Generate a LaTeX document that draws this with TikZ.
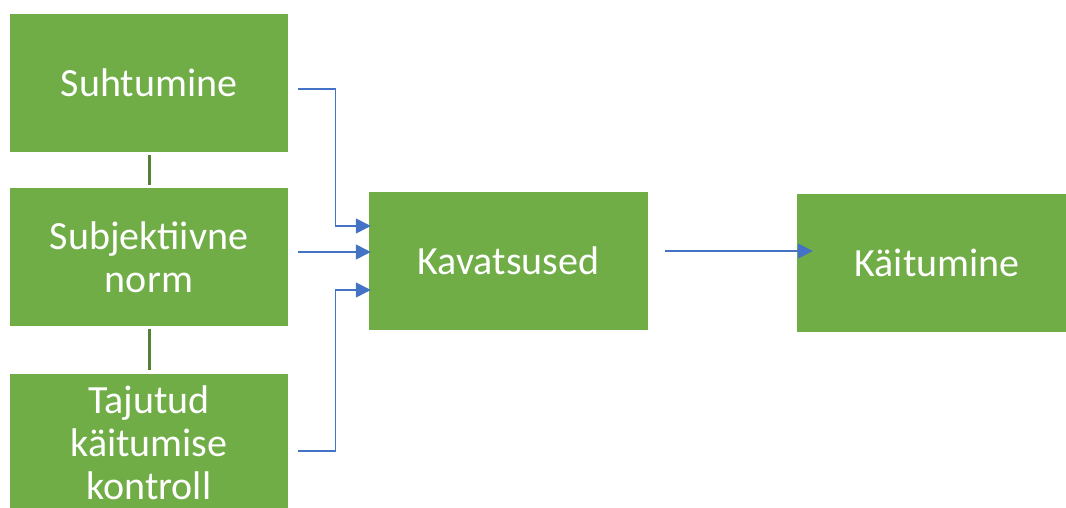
\documentclass[tikz,border=0pt]{standalone}
\usepackage{fontspec}
\setmainfont{Carlito}
\usetikzlibrary{arrows.meta}
\definecolor{boxgreen}{HTML}{70AD47}
\definecolor{tiegreen}{HTML}{548235}
\definecolor{myblue}{HTML}{4472C4}
\tikzset{
  box/.style={fill=boxgreen, text=white, minimum width=278pt, minimum height=138pt,
    inner sep=0pt, align=center, font=\fontsize{40}{43}\selectfont},
  link/.style={myblue, line width=1.3pt, -{Triangle[length=15pt,width=15pt]}},
  tie/.style={tiegreen, line width=3pt}
}
\begin{document}
\begin{tikzpicture}[x=1pt,y=-1pt]
			\useasboundingbox (0,0) rectangle (1066,508);
			\node [box] (suht) at (149,83) {Suhtumine};
			\node [box] (subj) at (149,257) {Subjektiivne\\norm};
			\node [box] (taju) at (149,443) {Tajutud\\käitumise\\kontroll};
			\node [box, minimum width=279pt] (kav) at (508.5,261) {Kavatsused};
			\node [box, minimum width=280pt] (kait) at (937,263) {Käitumine};
			\draw [tie] ([yshift=-3pt]suht.south) -- ([yshift=3pt]subj.north);
			\draw [tie] ([yshift=-3pt]subj.south) -- ([yshift=4pt]taju.north);
			\draw [link] ([xshift=10pt,yshift=-6pt]suht.east) -- ++(37,0) |- ([xshift=2pt,yshift=35pt]kav.west);
			\draw [link] ([xshift=10pt,yshift=5pt]subj.east) -- ([xshift=2pt,yshift=9pt]kav.west);
			\draw [link] ([xshift=10pt,yshift=-8pt]taju.east) -- ++(37,0) |- ([xshift=2pt,yshift=-29pt]kav.west);
			\draw [link] ([xshift=17pt,yshift=10pt]kav.east) -- ([xshift=16pt,yshift=12pt]kait.west);
		\end{tikzpicture}
\end{document}
